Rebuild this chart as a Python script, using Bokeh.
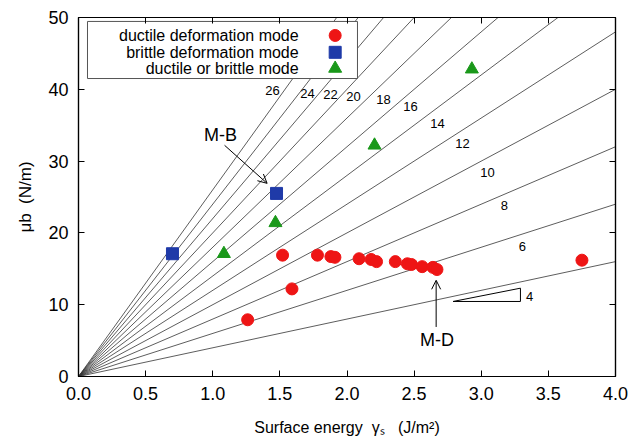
from bokeh.plotting import figure
from bokeh.models import Range1d, LinearAxis, FixedTicker, Arrow, OpenHead
from bokeh.core.properties import value
from bokeh.embed import file_html
from bokeh.resources import INLINE

# ---- data ----
ductile_x = [1.26, 1.52, 1.59, 1.78, 1.88, 1.91, 2.09, 2.18, 2.22, 2.36, 2.45, 2.48, 2.56, 2.64, 2.67, 3.75]
ductile_y = [7.9, 16.9, 12.2, 16.9, 16.7, 16.6, 16.4, 16.3, 16.0, 16.0, 15.7, 15.6, 15.3, 15.2, 14.9, 16.2]
brittle_x = [0.70, 1.475]
brittle_y = [17.1, 25.5]
either_x = [1.083, 1.467, 2.205, 2.93]
either_y = [17.1, 21.4, 32.2, 42.8]
slopes = [4, 6, 8, 10, 12, 14, 16, 18, 20, 22, 24, 26]
slope_label_x = [3.36, 3.307, 3.173, 3.046, 2.86, 2.674, 2.473, 2.272, 2.048, 1.877, 1.706, 1.445]
slope_label_y = [11.1, 18.1, 23.8, 28.4, 32.4, 35.3, 37.6, 38.6, 39.0, 39.3, 39.4, 39.8]
series_names = ["ductile deformation mode", "brittle deformation mode", "ductile or brittle mode"]
series_colors = ["#ee1515", "#1f3aa8", "#1a981a"]
series_markers = ["circle", "square", "triangle"]
x_ticks = [0.0, 0.5, 1.0, 1.5, 2.0, 2.5, 3.0, 3.5, 4.0]
y_ticks = [0, 10, 20, 30, 40, 50]

FONT = "Liberation Sans"
NB = "\u00a0"

p = figure(frame_width=537, frame_height=359, output_backend="svg", toolbar_location=None,
           x_range=Range1d(0, 4), y_range=Range1d(0, 50),
           min_border_left=78, min_border_right=26, min_border_top=17, min_border_bottom=60)
p.grid.visible = False
p.outline_line_color = "black"
p.outline_line_width = 1.2
p.background_fill_color = "white"

for ax in (p.xaxis[0], p.yaxis[0]):
    ax.major_tick_in = 6
    ax.major_tick_out = 0
    ax.minor_tick_in = 0
    ax.minor_tick_out = 0
    ax.axis_line_width = 1.2
    ax.major_label_text_font = FONT
    ax.major_label_text_font_size = "18px"
    ax.major_label_text_color = "black"
    ax.axis_label_text_font = FONT
    ax.axis_label_text_font_style = "normal"
    ax.axis_label_text_color = "black"

p.xaxis[0].ticker = FixedTicker(ticks=x_ticks)
p.xaxis[0].major_label_overrides = {t: f"{t:.1f}" for t in x_ticks}
p.xaxis[0].major_label_standoff = 10
p.xaxis[0].axis_label = "Surface energy" + NB * 2 + "γₛ" + NB * 3 + "(J/m²)"
p.xaxis[0].axis_label_text_font_size = "16px"
p.xaxis[0].axis_label_standoff = 16

p.yaxis[0].ticker = FixedTicker(ticks=y_ticks)
p.yaxis[0].major_label_standoff = 10
p.yaxis[0].axis_label = "μb" + NB * 2 + "(N/m)"
p.yaxis[0].axis_label_text_font_size = "17px"
p.yaxis[0].axis_label_standoff = 10

top = LinearAxis(ticker=FixedTicker(ticks=x_ticks), major_label_text_font_size="0px",
                 major_tick_in=6, major_tick_out=0, minor_tick_in=0, minor_tick_out=0,
                 axis_line_width=1.2, major_label_standoff=0)
right = LinearAxis(ticker=FixedTicker(ticks=y_ticks), major_label_text_font_size="0px",
                   major_tick_in=6, major_tick_out=0, minor_tick_in=0, minor_tick_out=0,
                   axis_line_width=1.2, major_label_standoff=0)
top.major_label_overrides = {t: "" for t in x_ticks}
right.major_label_overrides = {t: "" for t in y_ticks}
p.add_layout(top, "above")
p.add_layout(right, "right")

# radial lines
for k in slopes:
    p.line([0, 4], [0, 4 * k], line_color="#333333", line_width=0.8)

for k, lx, ly in zip(slopes, slope_label_x, slope_label_y):
    p.text([lx], [ly], text=[str(k)], text_font=value(FONT), text_font_size="13px",
           text_align="center", text_baseline="middle", text_color="black")

# slope triangle
p.patch([2.79, 3.292, 3.292], [10.45, 12.3, 10.45], fill_color=None, line_color="black", line_width=1)

# legend box (covers the lines)
p.quad(left=[0.067], right=[2.078], top=[49.45], bottom=[41.5],
       fill_color="white", line_color="#555555", line_width=1)
leg_y = [47.5, 45.15, 42.9]
for name, col, mk, ly in zip(series_names, series_colors, series_markers, leg_y):
    p.text([1.64], [ly], text=[name], text_font=value(FONT), text_font_size="16px",
           text_align="right", text_baseline="middle", text_color="black")
    p.scatter([1.912], [ly], marker=mk, size=12 if mk != "triangle" else 13,
              fill_color=col, line_color=col)

# data
p.scatter(ductile_x, ductile_y, marker="circle", size=12, fill_color=series_colors[0], line_color=series_colors[0])
p.scatter(brittle_x, brittle_y, marker="square", size=12, fill_color=series_colors[1], line_color=series_colors[1])
p.scatter(either_x, either_y, marker="triangle", size=13, fill_color=series_colors[2], line_color=series_colors[2])

# annotations
p.add_layout(Arrow(end=OpenHead(size=9, line_width=1), x_start=1.088, y_start=32.2, x_end=1.405, y_end=26.9,
                   line_width=1, line_color="black"))
p.text([1.058], [33.7], text=["M-B"], text_font=value(FONT), text_font_size="18px",
       text_align="center", text_baseline="middle", text_color="black")
p.add_layout(Arrow(end=OpenHead(size=9, line_width=1), x_start=2.664, y_start=6.9, x_end=2.664, y_end=13.4,
                   line_width=1, line_color="black"))
p.text([2.67], [5.1], text=["M-D"], text_font=value(FONT), text_font_size="18px",
       text_align="center", text_baseline="middle", text_color="black")

open("out.html", "w").write(file_html(p, INLINE))
